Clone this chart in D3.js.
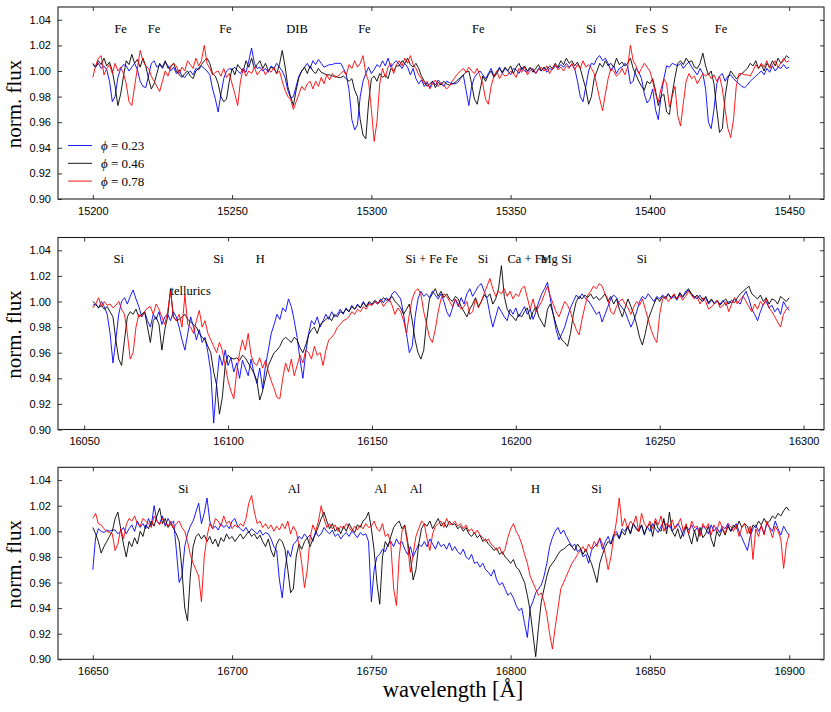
<!DOCTYPE html>
<html lang="en">
<head>
	<meta charset="utf-8">
	<title>Spectra at three phases</title>
	<script src="https://d3js.org/d3.v7.min.js"></script>
	<style>
		body { margin: 0; background: #fff; }
		.tick text { font-family: "Liberation Sans", Arial, sans-serif; font-size: 11px; fill: #000; }
		.line-label { font-family: "Liberation Serif", serif; font-size: 12.5px; }
		.axis-title { font-family: "Liberation Serif", serif; font-size: 21px; }
		.legend text { font-family: "Liberation Serif", serif; font-size: 13px; }
	</style>
</head>
<body>
<div id="chart"></div>
<script>
	// flux values are given as (flux - 1) in units of 0.001, one per Angstrom
	var p1Start = 15200;
	var p1Blue = [
		5,3,6,2,4,1,-8,-24,-20,-5,
		2,5,4,0,3,6,1,-8,-12,-13,
		-4,6,8,3,5,2,7,4,0,3,
		-2,1,-4,-5,-2,0,-3,2,1,4,
		2,0,-3,-14,-22,-32,-18,-6,0,2,
		1,3,0,-2,2,-1,8,18,6,2,
		3,0,2,-1,4,2,6,3,0,-5,
		-15,-21,-20,-12,-4,0,3,6,2,8,
		5,9,6,3,4,5,5,6,6,6,
		2,-3,-15,-38,-46,-42,-20,-8,-2,3,
		-2,1,5,3,8,4,10,3,6,8,
		5,2,6,3,-3,2,-6,-10,-7,-12,
		-9,-13,-8,-11,-7,-10,-12,-8,-9,-10,
		-10,-9,-6,-3,-15,-27,-12,-5,-2,0,
		-3,-6,-2,2,-4,-1,3,-2,2,0,
		-3,2,1,-2,3,0,-1,2,1,-2,
		2,0,3,-1,2,1,4,2,5,3,
		6,3,5,2,-8,-20,-24,-12,0,6,
		5,10,12,8,10,6,0,4,-2,2,
		3,6,4,-10,-8,2,-1,-6,-18,-25,
		-22,-14,-30,-38,-20,-6,4,3,6,5,
		4,6,2,5,7,3,0,-3,2,-2,
		-14,-40,-45,-30,-10,-4,-2,-8,-4,-3,
		-6,-8,-10,-12,-13,-11,-8,-6,-4,-2,
		0,-3,2,-1,4,0,3,2,5,2,
		3
	];
	var p1Black = [
		6,3,8,5,10,4,7,0,-12,-27,
		-18,-4,8,5,13,6,9,3,10,4,
		-6,-14,-10,-2,6,3,8,2,4,6,
		0,-3,-5,-2,0,-4,-6,0,2,5,
		8,10,6,-2,-4,-10,-20,-24,-22,-8,
		2,-3,5,2,0,8,3,10,2,5,
		8,2,6,0,3,2,-2,5,16,4,
		-12,-20,-27,-15,-5,0,3,-2,4,0,
		-2,2,-1,-2,-3,-3,-4,-4,-5,-5,
		-4,-6,-8,-6,-15,-20,-38,-50,-53,-25,
		-6,-4,-8,-2,-5,-3,-6,2,0,4,
		4,8,6,10,5,3,6,2,-4,-8,
		-12,-10,-8,-13,-9,-11,-8,-10,-11,-10,
		-9,-7,-5,-3,-1,0,-10,-22,-26,-15,
		-4,-8,-3,0,-5,-2,2,-1,3,0,
		4,-2,3,6,1,4,0,3,-1,2,
		5,0,3,1,4,2,6,3,8,5,
		10,6,8,4,7,2,-6,-14,-26,-20,
		-6,0,6,3,8,4,6,3,10,5,
		7,4,6,10,2,-3,-8,-12,-15,-8,
		-10,-6,-15,-27,-20,-18,-32,-34,-18,-5,
		6,8,5,10,7,8,3,2,6,14,
		4,-3,0,-10,-30,-48,-45,-20,-6,0,
		-3,-6,-4,-2,0,2,6,4,8,2,
		5,0,6,3,8,4,10,6,8,12,
		10
	];
	var p1Red = [
		-5,4,10,12,-3,2,5,-2,6,0,
		3,-2,-10,-24,-27,-12,2,16,8,4,
		2,-4,-8,-12,-16,-8,0,-4,3,6,
		4,-2,3,0,8,5,2,10,4,8,
		20,6,2,-3,-1,0,-4,2,-5,-2,
		-10,-18,-27,-8,2,-4,0,-2,3,-3,
		0,2,-3,1,-1,3,-2,0,-8,-15,
		-20,-22,-30,-24,-18,-12,-15,-10,-8,-14,
		-8,-12,-5,-10,-3,-7,-2,-5,-4,-2,
		0,-3,5,2,8,3,6,12,-2,-8,
		-30,-55,-40,-10,2,-5,3,6,-2,5,
		8,4,10,6,12,5,2,-3,-6,-10,
		-8,-14,-10,-7,-12,-9,-11,-14,-12,-8,
		-5,-2,0,2,-1,3,0,-2,2,-4,
		-10,-22,-26,-12,-4,0,-6,-2,-4,-3,
		0,-2,-5,2,-1,3,-3,0,2,-2,
		1,3,0,4,-2,2,5,1,3,0,
		4,2,6,1,5,2,8,3,5,2,
		-2,-12,-22,-31,-18,-6,2,0,-4,-2,
		2,-3,3,20,8,4,-2,2,6,3,
		0,-8,-18,-24,-14,-6,-10,-28,-20,-12,
		-35,-43,-25,-8,-2,-6,-4,-10,-6,-2,
		-4,-2,-6,-3,-8,-4,-14,-30,-45,-52,
		-38,-12,-2,-2,-3,-3,-4,0,5,2,
		6,3,8,2,5,8,3,6,10,7,
		8
	];

	var p2Start = 16053;
	var p2Blue = [
		-3,-2,-5,0,-4,-10,-25,
		-48,-30,-10,0,3,-2,4,9,2,-4,
		-12,-8,-15,-20,-10,-14,-8,-18,-12,-10,
		-15,-8,-12,-20,-30,-38,-25,-12,-20,-30,
		-22,-32,-28,-40,-55,-95,-65,-42,-50,-38,
		-50,-44,-55,-48,-60,-46,-52,-58,-45,-56,
		-64,-52,-68,-50,-38,-25,-18,-10,-14,-5,
		-8,2,-4,-15,-28,-45,-60,-40,-25,-15,
		-18,-12,-20,-15,-10,-14,-8,-12,-10,-6,
		-10,-5,-8,-3,-6,-2,-5,0,-4,-1,
		-3,0,-2,2,-1,3,0,6,8,5,
		2,-10,-25,-40,-35,-12,2,8,4,6,
		3,8,5,2,6,0,-8,-12,-5,2,
		-4,3,-2,6,10,4,8,12,14,8,
		2,-10,-20,-12,-4,-8,-12,-15,-6,-10,
		-5,-12,-8,-4,-10,-6,-14,-8,0,6,
		10,15,2,-10,-22,-30,-25,-20,-12,-5,
		0,5,2,6,3,1,-2,-6,-10,-8,
		-16,-10,-4,2,5,3,-2,-5,-8,-14,
		-20,-15,-8,0,4,2,6,3,0,4,
		2,5,3,6,2,4,1,6,3,8,
		9,6,4,2,5,1,3,-2,1,-1,
		0,-2,1,-3,0,-1,2,0,-2,4,
		8,2,-6,-10,-15,-8,-2,0,-5,-3,
		-8,-5,-10,0,-4,-7
	];
	var p2Black = [
		0,-2,-5,-3,-6,-4,-8,
		-12,-30,-45,-50,-30,-12,-8,-10,-6,-12,
		-10,-8,-20,-32,-15,-12,-18,-38,-22,-12,
		10,-12,-15,-14,-12,-10,-14,-16,-18,-20,
		-25,-28,-30,-35,-40,-55,-65,-88,-75,-50,
		-42,-44,-45,-44,-46,-42,-44,-48,-52,-56,
		-62,-77,-70,-60,-50,-45,-40,-38,-35,-30,
		-28,-30,-32,-28,-30,-36,-40,-34,-26,-22,
		-20,-25,-18,-16,-14,-12,-15,-10,-12,-8,
		-9,-6,-8,-4,-6,-3,-5,-1,-4,0,
		-2,1,-1,0,3,1,2,4,0,-2,
		-5,-10,-6,-2,-15,-30,-40,-45,-38,-15,
		2,6,10,4,8,3,6,2,0,4,
		2,-4,-8,-12,-6,-2,3,-4,0,5,
		3,6,-2,2,10,28,4,-6,-10,-12,
		-15,-10,-12,-8,-5,-14,-8,-4,-12,-16,
		-20,-6,-2,-10,-18,-25,-30,-32,-35,-25,
		-10,0,4,2,5,3,6,2,4,1,
		3,6,0,4,-2,2,-6,-12,-5,2,
		-4,-10,-18,-28,-34,-25,-14,-8,-2,3,
		0,4,2,6,3,5,2,7,4,6,
		10,6,3,5,2,0,4,-1,2,-2,
		1,-3,0,2,-2,1,-1,3,6,8,
		10,12,6,4,2,5,0,3,-2,2,
		1,-2,4,2,0,3
	];
	var p2Red = [
		-5,-2,3,-4,0,-3,-2,
		-5,-3,0,-6,-10,-25,-45,-40,-20,-10,
		-12,-8,-5,-4,-10,-2,-6,-12,-18,-8,
		8,-12,-15,-10,-20,5,-18,-20,-25,-15,
		-7,-20,-15,-25,-30,-35,-40,-32,-38,-50,
		-62,-70,-76,-55,-40,-30,-38,-25,-42,-48,
		-50,-44,-52,-46,-55,-62,-68,-75,-76,-60,
		-48,-55,-45,-58,-50,-42,-48,-38,-40,-45,
		-35,-42,-40,-50,-38,-30,-28,-25,-20,-18,
		-15,-14,-12,-8,-10,-6,-8,-4,-6,-2,
		-3,0,-2,1,-4,-1,2,-3,-10,-5,
		-8,-15,-25,-10,2,8,10,6,-8,-18,
		-28,-32,-22,-8,2,6,4,0,-4,2,
		-2,-6,-4,0,-10,-8,2,-5,0,6,
		12,18,10,4,8,6,10,4,8,2,
		6,4,10,12,3,-6,2,-8,-4,0,
		6,12,4,-2,-8,-12,-6,0,-3,-8,
		-16,-22,-26,-14,-4,5,8,12,10,14,
		12,6,2,-8,-10,-4,0,2,-2,-5,
		-10,-4,0,-3,2,-6,-14,-22,-28,-32,
		-10,2,4,0,3,6,2,5,1,4,
		8,5,2,4,-2,3,0,-6,-4,-2,
		1,-5,-3,0,-8,-2,3,-2,2,4,
		0,-4,-8,-2,-6,0,-3,2,-5,-8,
		-12,-16,-20,-10,-6,-4
	];

	var p3Start = 16650;
	var p3Blue = [
		-30,-5,2,0,-1,1,0,1,1,-2,
		0,3,-2,2,5,0,8,3,6,2,
		10,4,20,8,6,12,4,10,6,8,
		-15,-40,-35,-12,-2,4,8,15,22,6,
		14,26,8,2,4,1,6,3,5,2,
		8,10,4,2,0,3,-1,2,0,-2,
		1,-3,-1,-2,-6,-12,-15,-38,-52,-30,
		-15,-20,-10,-8,-4,-6,-2,-5,-3,-8,
		0,-4,-2,3,0,-2,1,-4,-2,-6,
		-3,-1,-4,0,-2,-5,-1,-3,-2,-8,
		-55,-30,-20,-18,-14,-16,-10,-8,-12,-6,
		-10,-8,-14,-18,-12,-20,-15,-10,-12,-8,
		-12,-6,-10,-14,-8,-12,-10,-14,-9,-15,
		-12,-16,-18,-14,-20,-22,-18,-25,-24,-28,
		-25,-30,-32,-35,-30,-38,-42,-40,-45,-50,
		-48,-52,-58,-62,-60,-72,-83,-60,-55,-48,
		-45,-42,-35,-25,-12,-5,0,3,-2,1,
		-4,-8,-12,-10,-16,-14,-20,-18,-25,-15,
		-12,-10,-6,-14,-8,-4,-10,-2,0,-5,
		2,0,4,-2,6,3,0,5,-3,4,
		0,6,2,-1,4,8,2,5,0,3,
		6,2,-4,4,1,5,0,3,-3,4,
		2,-2,5,0,3,-1,4,2,6,0,
		3,6,0,-5,-10,-15,-4,2,5,0,
		4,-2,6,3,0,8,2,-3,4,0,
		-3
	];
	var p3Black = [
		3,-2,-8,-17,-12,-8,-4,0,10,15,
		2,-10,-20,-8,-12,-5,-10,0,-4,5,
		2,8,4,12,18,6,10,3,6,2,
		-2,-8,-30,-60,-70,-35,-12,-4,-2,-6,
		-3,-8,-4,-10,-6,-12,-5,-8,-2,-6,
		-4,-8,-5,-2,-6,-3,0,-4,-2,-6,
		-3,-8,-12,-6,-15,-20,-10,-6,-8,-14,
		-30,-48,-45,-20,-10,-14,-8,-5,-12,-6,
		-2,4,10,15,8,2,6,0,3,-2,
		4,0,6,2,-1,5,3,8,10,15,
		2,-15,-40,-57,-20,-8,-12,-4,3,6,
		8,2,5,-8,-20,-38,-30,-10,2,6,
		4,8,2,6,10,4,7,3,8,5,
		6,2,4,0,3,-2,-4,-1,-5,-3,
		-8,-6,-10,-12,-15,-13,-18,-16,-20,-22,
		-25,-22,-28,-30,-35,-40,-50,-62,-80,-98,
		-75,-55,-45,-35,-28,-25,-22,-18,-15,-14,
		-12,-10,-12,-15,-10,-13,-18,-14,-20,-25,
		-32,-40,-25,-18,-12,-8,-10,-4,-2,-6,
		0,-3,4,-2,6,2,0,5,-2,3,
		6,-4,8,2,0,10,-2,15,0,-4,
		2,-6,0,4,-3,-10,1,-8,3,-5,
		-2,4,-6,-12,0,-4,2,-3,4,0,
		5,2,8,3,6,4,-2,5,3,8,
		5,10,6,8,12,10,14,12,16,19,
		16
	];
	var p3Red = [
		10,14,6,5,2,0,-1,-2,-15,-10,
		2,-6,5,10,8,12,6,4,10,8,
		6,3,12,8,5,10,6,4,8,2,
		6,8,3,0,-8,-18,-25,-30,-35,-55,
		-20,-4,6,2,10,8,4,12,6,8,
		2,5,3,6,4,10,22,28,15,6,
		8,3,6,2,5,0,4,1,6,2,
		8,-2,4,0,-10,-25,-44,-30,-5,5,
		0,8,20,10,3,6,2,5,0,4,
		2,6,3,0,4,1,5,2,6,3,
		4,8,2,0,6,-4,-2,-10,-45,-58,
		-20,0,4,-10,-32,-18,-4,2,8,6,
		-6,-15,-2,4,6,8,3,10,5,6,
		8,4,6,2,5,0,2,-2,1,-3,
		-5,-8,-6,-10,-12,-15,-12,-18,-14,-5,
		2,6,0,-4,-10,-18,-25,-35,-40,-45,
		-50,-48,-55,-65,-80,-92,-75,-60,-45,-40,
		-35,-30,-25,-22,-18,-15,-12,-16,-10,-14,
		-8,-12,-5,-10,-18,-30,-20,-5,8,26,
		4,10,2,8,5,12,0,14,6,3,
		8,2,10,5,12,0,6,3,9,2,
		5,10,0,6,-2,8,3,4,-4,6,
		2,6,-3,5,0,8,3,-2,6,4,
		0,5,-4,3,6,-2,4,-22,2,-4,
		5,-3,8,2,-5,4,0,-6,-29,-10,
		-2
	];

	// tick labels
	var p1Ticks = [15200, 15250, 15300, 15350, 15400, 15450];
	var p2Ticks = [16050, 16100, 16150, 16200, 16250, 16300];
	var p3Ticks = [16650, 16700, 16750, 16800, 16850, 16900];
	var fluxTicks = [0.90, 0.92, 0.94, 0.96, 0.98, 1.00, 1.02, 1.04];

	// line identifications (wavelength, name)
	var p1Lines = [[15210, "Fe"], [15222, "Fe"], [15247.6, "Fe"], [15273.3, "DIB"], [15297.5, "Fe"],
		[15338.4, "Fe"], [15378.9, "Si"], [15397, "Fe"], [15401, "S"], [15405.4, "S"], [15425.5, "Fe"]];
	var p2Lines = [[16062, "Si"], [16096.7, "Si"], [16111.2, "H"], [16168, "Si + Fe"], [16177.7, "Fe"],
		[16188.6, "Si"], [16204, "Ca + Fe"], [16211.6, "Mg"], [16217.6, "Si"], [16243.8, "Si"]];
	var p3Lines = [[16682.5, "Si"], [16722.2, "Al"], [16753.3, "Al"], [16766, "Al"], [16808.9, "H"], [16830.8, "Si"]];

	var phases = ["0.23", "0.46", "0.78"];

	var w = 831, h = 712;
	var left = 58, right = 824, panelH = 192;
	var tops = [7, 237.5, 467.3];
	var colors = ["#0000ff", "#000000", "#ff0000"];

	var panels = [
		{ start: p1Start, series: [p1Blue, p1Black, p1Red], ticks: p1Ticks, lines: p1Lines },
		{ start: p2Start, series: [p2Blue, p2Black, p2Red], ticks: p2Ticks, lines: p2Lines },
		{ start: p3Start, series: [p3Blue, p3Black, p3Red], ticks: p3Ticks, lines: p3Lines }
	];

	var svg = d3.select("#chart")
		.append("svg")
		.attr("width", w)
		.attr("height", h);

	panels.forEach(function(p, k) {
		var top = tops[k];
		var n = d3.max(p.series, function(s) { return s.length; });
		var x0 = p.start, x1 = p.start + n - 1;
		var pad = (x1 - x0) * 0.05;

		var x = d3.scaleLinear().domain([x0 - pad, x1 + pad]).range([left, right]);
		var y = d3.scaleLinear().domain([0.90, 1.05]).range([top + panelH, top]);

		var g = svg.append("g");

		g.append("clipPath").attr("id", "clip" + k)
			.append("rect")
			.attr("x", left).attr("y", top)
			.attr("width", right - left).attr("height", panelH);

		var line = d3.line()
			.x(function(d, i) { return x(p.start + i); })
			.y(function(d) { return y(1 + d / 1000); });

		p.series.forEach(function(s, j) {
			g.append("path")
				.datum(s)
				.attr("clip-path", "url(#clip" + k + ")")
				.attr("fill", "none")
				.attr("stroke", colors[j])
				.attr("stroke-width", 0.9)
				.attr("stroke-linejoin", "round")
				.attr("d", line);
		});

		// axes, ticks pointing in, on all four sides
		var fmt = d3.format(".2f");
		g.append("g")
			.attr("transform", "translate(0," + (top + panelH) + ")")
			.call(d3.axisBottom(x).tickValues(p.ticks).tickSize(-4).tickPadding(8).tickFormat(d3.format("d")))
			.call(function(a) { a.select(".domain").remove(); });
		g.append("g")
			.attr("transform", "translate(0," + top + ")")
			.call(d3.axisTop(x).tickValues(p.ticks).tickSize(-4).tickFormat(""))
			.call(function(a) { a.select(".domain").remove(); });
		g.append("g")
			.attr("transform", "translate(" + left + ",0)")
			.call(d3.axisLeft(y).tickValues(fluxTicks).tickSize(-4).tickPadding(7).tickFormat(fmt))
			.call(function(a) { a.select(".domain").remove(); });
		g.append("g")
			.attr("transform", "translate(" + right + ",0)")
			.call(d3.axisRight(y).tickValues(fluxTicks).tickSize(-4).tickFormat(""))
			.call(function(a) { a.select(".domain").remove(); });

		g.selectAll(".tick line").attr("stroke", "#000").attr("stroke-width", 0.8);

		g.append("rect")
			.attr("x", left).attr("y", top)
			.attr("width", right - left).attr("height", panelH)
			.attr("fill", "none")
			.attr("stroke", "#222")
			.attr("stroke-width", 1.1);

		// line names
		g.selectAll(".line-label")
			.data(p.lines)
			.enter()
			.append("text")
			.attr("class", "line-label")
			.attr("x", function(d) { return x(d[0]); })
			.attr("y", y(1.030))
			.attr("text-anchor", "middle")
			.text(function(d) { return d[1]; });

		if (k == 1) {
			g.append("text")
				.attr("class", "line-label")
				.attr("x", x(16080))
				.attr("y", y(1.005))
				.text("tellurics");
		}

		// y-axis title
		svg.append("text")
			.attr("class", "axis-title")
			.attr("text-anchor", "middle")
			.attr("transform", "translate(21," + (top + 97) + ") rotate(-90)")
			.text("norm. flux");

		if (k == 0) {
			var leg = g.append("g").attr("class", "legend");
			phases.forEach(function(ph, j) {
				var ly = top + 138.5 + j * 17.8;
				leg.append("line")
					.attr("x1", 68).attr("x2", 92)
					.attr("y1", ly).attr("y2", ly)
					.attr("stroke", colors[j]).attr("stroke-width", 0.9);
				var t = leg.append("text").attr("x", 101).attr("y", ly + 4.5);
				t.append("tspan").attr("font-style", "italic").text("ϕ");
				t.append("tspan").text(" = " + ph);
			});
		}
	});

	svg.append("text")
		.attr("class", "axis-title")
		.attr("text-anchor", "middle")
		.style("font-size", "22.5px")
		.attr("x", 453)
		.attr("y", 697)
		.text("wavelength [Å]");
</script>
</body>
</html>
